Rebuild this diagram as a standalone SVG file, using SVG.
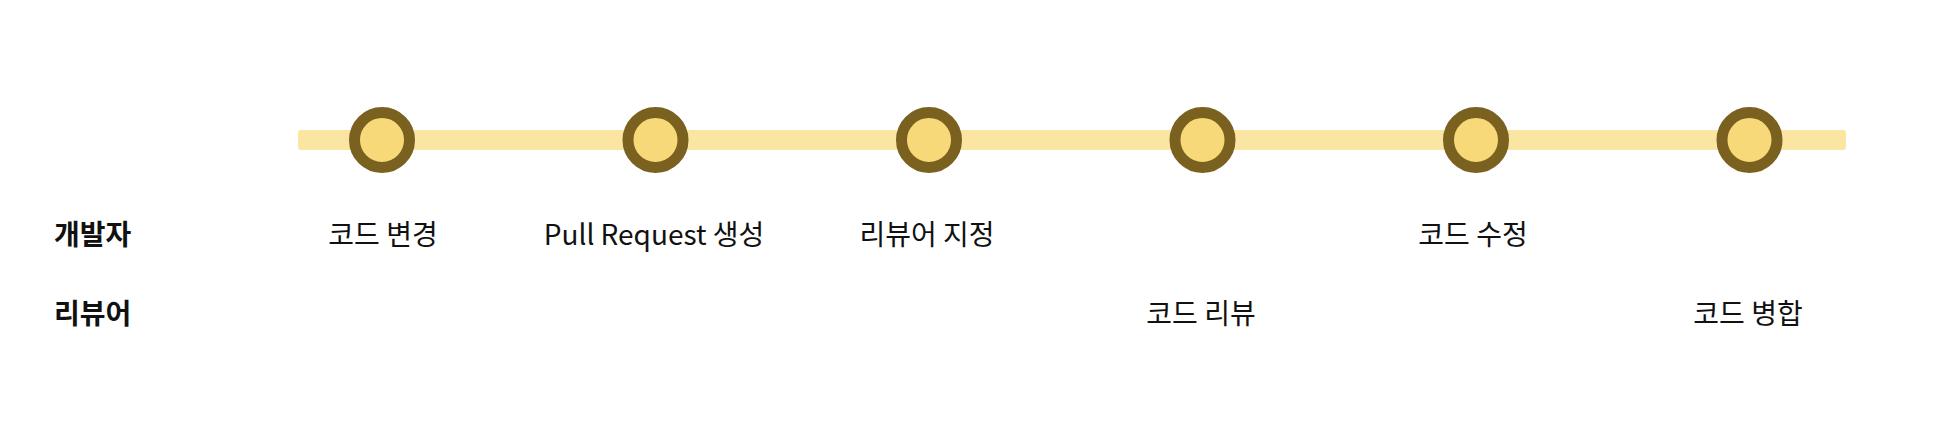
<svg xmlns="http://www.w3.org/2000/svg" width="1938" height="432" viewBox="0 0 1938 432">
<style>
.bar{fill:#FAE6A2}
.dot{fill:#F8D97A;stroke:#7B611F;stroke-width:11}
.lbl{font-family:"Noto Sans CJK KR","Noto Sans",sans-serif;font-size:28px;fill:#111;text-anchor:middle}
.lane{font-family:"Noto Sans CJK KR","Noto Sans",sans-serif;font-size:28px;font-weight:bold;fill:#111}
</style>
<rect width="1938" height="432" fill="#fff"/>
<g id="connectors">
<rect class="bar" x="298" y="130" width="1548" height="20" rx="3"/>
</g>
<g id="lane-dev"><text class="lane" x="54" y="245">개발자</text></g>
<g id="lane-rev"><text class="lane" x="54" y="324">리뷰어</text></g>
<g id="n1"><circle class="dot" cx="382" cy="140" r="27.5"/><text class="lbl" x="383" y="245">코드 변경</text></g>
<g id="n2"><circle class="dot" cx="655.5" cy="140" r="27.5"/><text class="lbl" x="654" y="245">Pull Request 생성</text></g>
<g id="n3"><circle class="dot" cx="929" cy="140" r="27.5"/><text class="lbl" x="927" y="245">리뷰어 지정</text></g>
<g id="n4"><circle class="dot" cx="1202.5" cy="140" r="27.5"/><text class="lbl" x="1201" y="324">코드 리뷰</text></g>
<g id="n5"><circle class="dot" cx="1476" cy="140" r="27.5"/><text class="lbl" x="1473" y="245">코드 수정</text></g>
<g id="n6"><circle class="dot" cx="1749.5" cy="140" r="27.5"/><text class="lbl" x="1748" y="324">코드 병합</text></g>
</svg>
